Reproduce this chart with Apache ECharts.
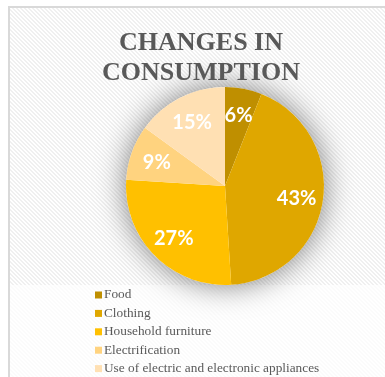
<!DOCTYPE html>
<html>
<head>
<meta charset="utf-8">
<script src="https://cdn.jsdelivr.net/npm/echarts@6/dist/echarts.min.js"></script>
<style>
  html, body { margin: 0; padding: 0; background: #ffffff; }
  #chart { width: 385px; height: 377px; }
</style>
</head>
<body>
<div id="chart"></div>
<script>
// Shares of consumption change by category (percent)
const categories = [
  'Food',
  'Clothing',
  'Household furniture',
  'Electrification',
  'Use of electric and electronic appliances'
];
const shares = [6, 43, 27, 9, 15];
const sliceColors = ['#BF8F00', '#DFA700', '#FFC000', '#FFD37F', '#FFE0B3'];
const titleText = 'CHANGES IN\nCONSUMPTION';

// Light diagonal hatch used as the plot background
function hatchPattern() {
  const size = 4;
  const c = document.createElement('canvas');
  c.width = size; c.height = size;
  const ctx = c.getContext('2d');
  const img = ctx.createImageData(size, size);
  for (let y = 0; y < size; y++) {
    for (let x = 0; x < size; x++) {
      const k = (((x - y) % size) + size) % size;
      const v = k < 2 ? 240 : 255;
      const i = (y * size + x) * 4;
      img.data[i] = v; img.data[i + 1] = v; img.data[i + 2] = v; img.data[i + 3] = 255;
    }
  }
  ctx.putImageData(img, 0, 0);
  return c;
}

const pieData = categories.map((name, i) => ({
  name: name,
  value: shares[i],
  itemStyle: { color: sliceColors[i] }
}));

const center = [225, 186];
const outer = 99;

const chart = echarts.init(document.getElementById('chart'), null, { renderer: 'canvas' });
chart.setOption({
  animation: false,
  backgroundColor: '#ffffff',
  graphic: [
    {
      type: 'rect', z: -10, silent: true,
      shape: { x: 9, y: 7, width: 420, height: 420 },
      style: { fill: { image: hatchPattern(), repeat: 'repeat' }, stroke: '#D9D9D9', lineWidth: 2 }
    },
    {
      type: 'rect', z: -9, silent: true,
      shape: { x: 10, y: 285, width: 420, height: 120 },
      style: { fill: 'rgba(255,255,255,0.72)' }
    }
  ],
  title: {
    text: titleText,
    left: 201,
    top: 28,
    textAlign: 'center',
    padding: 0,
    textStyle: {
      fontFamily: '"Liberation Serif", "Times New Roman", serif',
      fontWeight: 'bold',
      fontSize: 26,
      lineHeight: 30,
      color: '#595959'
    }
  },
  legend: {
    data: categories,
    orient: 'vertical',
    left: 95,
    top: 287.5,
    icon: 'rect',
    itemWidth: 7,
    itemHeight: 7,
    itemGap: 3.4,
    padding: 0,
    selectedMode: false,
    textStyle: {
      fontFamily: '"Liberation Serif", "Times New Roman", serif',
      fontSize: 13.3,
      lineHeight: 15,
      color: '#595959',
      padding: [0, 0, 0, -3]
    }
  },
  series: [
    {
      // soft halo behind the pie
      type: 'pie', silent: true, z: 1,
      center: center, radius: outer,
      label: { show: false }, labelLine: { show: false },
      itemStyle: { color: '#ffffff', shadowBlur: 30, shadowColor: 'rgba(0,0,0,0.5)' },
      data: [{ name: '', value: 1 }]
    },
    {
      type: 'pie', silent: true, z: 2,
      center: center, radius: outer,
      startAngle: 90, clockwise: true,
      label: { show: false }, labelLine: { show: false },
      itemStyle: { borderWidth: 0 },
      data: pieData
    },
    {
      // percentage labels placed on a ring so they sit ~0.7 of the radius out
      type: 'pie', silent: true, z: 3,
      center: center, radius: [40, outer],
      startAngle: 90, clockwise: true,
      itemStyle: { color: 'rgba(0,0,0,0)', borderWidth: 0 },
      labelLine: { show: false },
      label: {
        show: true,
        position: 'inside',
        formatter: '{c}%',
        color: '#ffffff',
        fontFamily: 'Lato, "Open Sans", sans-serif',
        fontWeight: 'bold',
        fontSize: 20,
        offset: [0, 1]
      },
      data: categories.map((name, i) => ({ name: name, value: shares[i] }))
    }
  ]
});
</script>
</body>
</html>
